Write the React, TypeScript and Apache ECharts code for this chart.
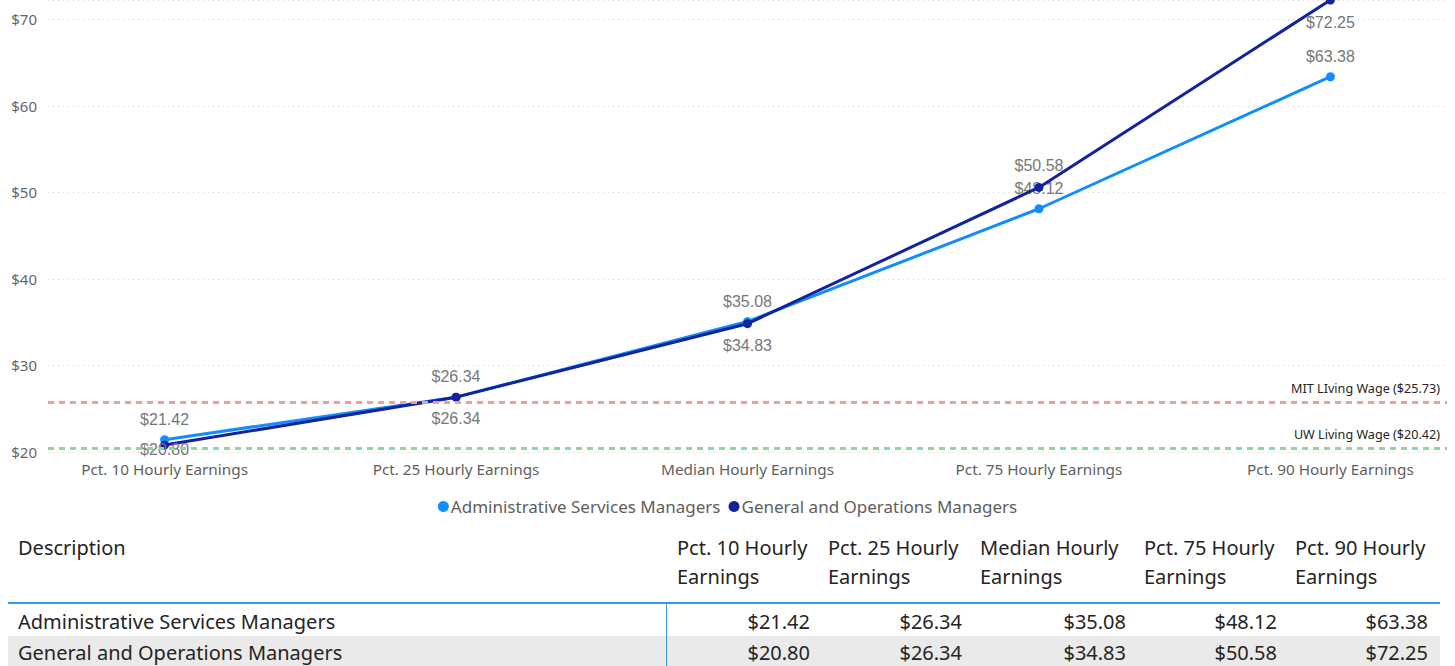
import React, { useEffect, useRef } from "react";
import * as echarts from "echarts";

const categories = [
  "Pct. 10 Hourly Earnings",
  "Pct. 25 Hourly Earnings",
  "Median Hourly Earnings",
  "Pct. 75 Hourly Earnings",
  "Pct. 90 Hourly Earnings",
];
const seriesNames = ["Administrative Services Managers", "General and Operations Managers"];
const adminValues = [21.42, 26.34, 35.08, 48.12, 63.38];
const generalValues = [20.8, 26.34, 34.83, 50.58, 72.25];
const mitWage = 25.73;
const uwWage = 20.42;
const yTicks = [20, 30, 40, 50, 60, 70];

// label placement for the dark series (per point)
const generalLabelPos = ["inside", "bottom", "bottom", "top", "bottom"];
const generalLabelDist = [0, 9, 9, 9, 10];
const generalLabelOffset = [[0, 4], [0, 0], [0, 0], [0, 0], [0, 0]];

const UI_FONT = "'Segoe UI', 'Noto Sans', sans-serif";
const LABEL_FONT = "'Liberation Sans', Arial, sans-serif";
const C_ADMIN = "#118DFF";
const C_GEN = "#12239E";

const fmt = (v: number) => "$" + v.toFixed(2);

export default function App() {
  const ref = useRef<HTMLDivElement>(null);
  useEffect(() => {
    document.body.style.margin = "0";
    const chart = echarts.init(ref.current!, null, { renderer: "svg" });

    const colHeaderX = [677, 828, 980, 1144, 1295];
    const colValueX = [810, 962, 1126, 1277, 1428];
    const rowsY = [621, 652];
    const tableRows = [adminValues, generalValues];
    const TF = `20px ${UI_FONT}`;

    const graphics: any[] = [];
    graphics.push({
      type: "rect",
      shape: { x: 8, y: 636, width: 1432, height: 30 },
      style: { fill: "#EAEAEA" },
      silent: true,
    });
    graphics.push({
      type: "text",
      x: 18,
      y: 547,
      style: { text: "Description", font: TF, fill: "#252423", textVerticalAlign: "middle" },
    });
    categories.forEach((c, i) => {
      const k = c.lastIndexOf(" ");
      graphics.push({
        type: "text",
        x: colHeaderX[i],
        y: 547,
        style: { text: c.slice(0, k), font: TF, fill: "#252423", textVerticalAlign: "middle" },
      });
      graphics.push({
        type: "text",
        x: colHeaderX[i],
        y: 576,
        style: { text: c.slice(k + 1), font: TF, fill: "#252423", textVerticalAlign: "middle" },
      });
    });
    graphics.push({
      type: "line",
      shape: { x1: 8, y1: 603, x2: 1440, y2: 603 },
      style: { stroke: "#3A96E8", lineWidth: 2 },
    });
    graphics.push({
      type: "line",
      shape: { x1: 666.5, y1: 604, x2: 666.5, y2: 666 },
      style: { stroke: "#3A96E8", lineWidth: 1 },
    });
    tableRows.forEach((row, r) => {
      graphics.push({
        type: "text",
        x: 18,
        y: rowsY[r],
        style: { text: seriesNames[r], font: TF, fill: "#252423", textVerticalAlign: "middle" },
      });
      row.forEach((v, i) => {
        graphics.push({
          type: "text",
          x: colValueX[i],
          y: rowsY[r],
          style: {
            text: fmt(v),
            font: TF,
            fill: "#252423",
            textAlign: "right",
            textVerticalAlign: "middle",
          },
        });
      });
    });

    const labelStyle = {
      show: true,
      fontFamily: LABEL_FONT,
      fontSize: 16,
      color: "#777777",
      formatter: (p: any) => fmt(p.value[1]),
    };

    chart.setOption({
      animation: false,
      grid: { left: 48, right: 8, top: 0, bottom: 214, containLabel: false },
      legend: {
        data: seriesNames,
        top: 493,
        left: "center",
        icon: "circle",
        itemWidth: 11,
        itemHeight: 11,
        itemGap: 8,
        textStyle: { fontFamily: UI_FONT, fontSize: 17, color: "#605E5C", padding: [0, 0, 0, -3] },
      },
      xAxis: {
        type: "value",
        min: -0.4,
        max: 4.4,
        axisLine: { show: false },
        axisTick: { show: false },
        splitLine: { show: false },
        axisLabel: {
          customValues: categories.map((_, i) => i),
          formatter: (v: number) => categories[Math.round(v)] ?? "",
          fontFamily: UI_FONT,
          fontSize: 15.3,
          color: "#605E5C",
          margin: 9,
        },
      },
      yAxis: {
        type: "value",
        min: yTicks[0],
        max: "dataMax",
        interval: 10,
        axisLine: { show: false },
        axisTick: { show: false },
        axisLabel: {
          formatter: (v: number) => "$" + v,
          fontFamily: UI_FONT,
          fontSize: 15,
          color: "#666666",
          margin: 11,
          showMaxLabel: false,
        },
        splitLine: { lineStyle: { color: "#D6D6D6", type: [1, 4], width: 1 } },
      },
      graphic: graphics,
      series: [
        {
          name: seriesNames[0],
          type: "line",
          data: adminValues.map((v, i) => [i, v]),
          color: C_ADMIN,
          lineStyle: { width: 3 },
          symbol: "circle",
          symbolSize: 9,
          z: 3,
          label: { ...labelStyle, position: "top", distance: 8 },
          markLine: {
            silent: true,
            symbol: "none",
            data: [
              {
                yAxis: mitWage,
                lineStyle: { color: "#F29B9B", width: 3, type: [6, 5] },
                label: {
                  show: true,
                  position: "insideEndTop",
                  formatter: `MIT LIving Wage ($${mitWage.toFixed(2)})`,
                  fontFamily: UI_FONT,
                  fontSize: 12.6,
                  color: "#252423",
                  distance: [7, 7],
                },
              },
              {
                yAxis: uwWage,
                lineStyle: { color: "#8FD6A2", width: 3, type: [6, 5] },
                label: {
                  show: true,
                  position: "insideEndTop",
                  formatter: `UW Living Wage ($${uwWage.toFixed(2)})`,
                  fontFamily: UI_FONT,
                  fontSize: 12.6,
                  color: "#252423",
                  distance: [7, 7],
                },
              },
            ],
          },
        },
        {
          name: seriesNames[1],
          type: "line",
          data: generalValues.map((v, i) => ({
            value: [i, v],
            label: {
              position: generalLabelPos[i],
              distance: generalLabelDist[i],
              offset: generalLabelOffset[i],
            },
          })),
          color: C_GEN,
          lineStyle: { width: 3 },
          symbol: "circle",
          symbolSize: 9,
          z: 4,
          label: { ...labelStyle },
        },
      ],
    });
    return () => chart.dispose();
  }, []);
  return <div ref={ref} style={{ width: 1455, height: 666 }} />;
}
